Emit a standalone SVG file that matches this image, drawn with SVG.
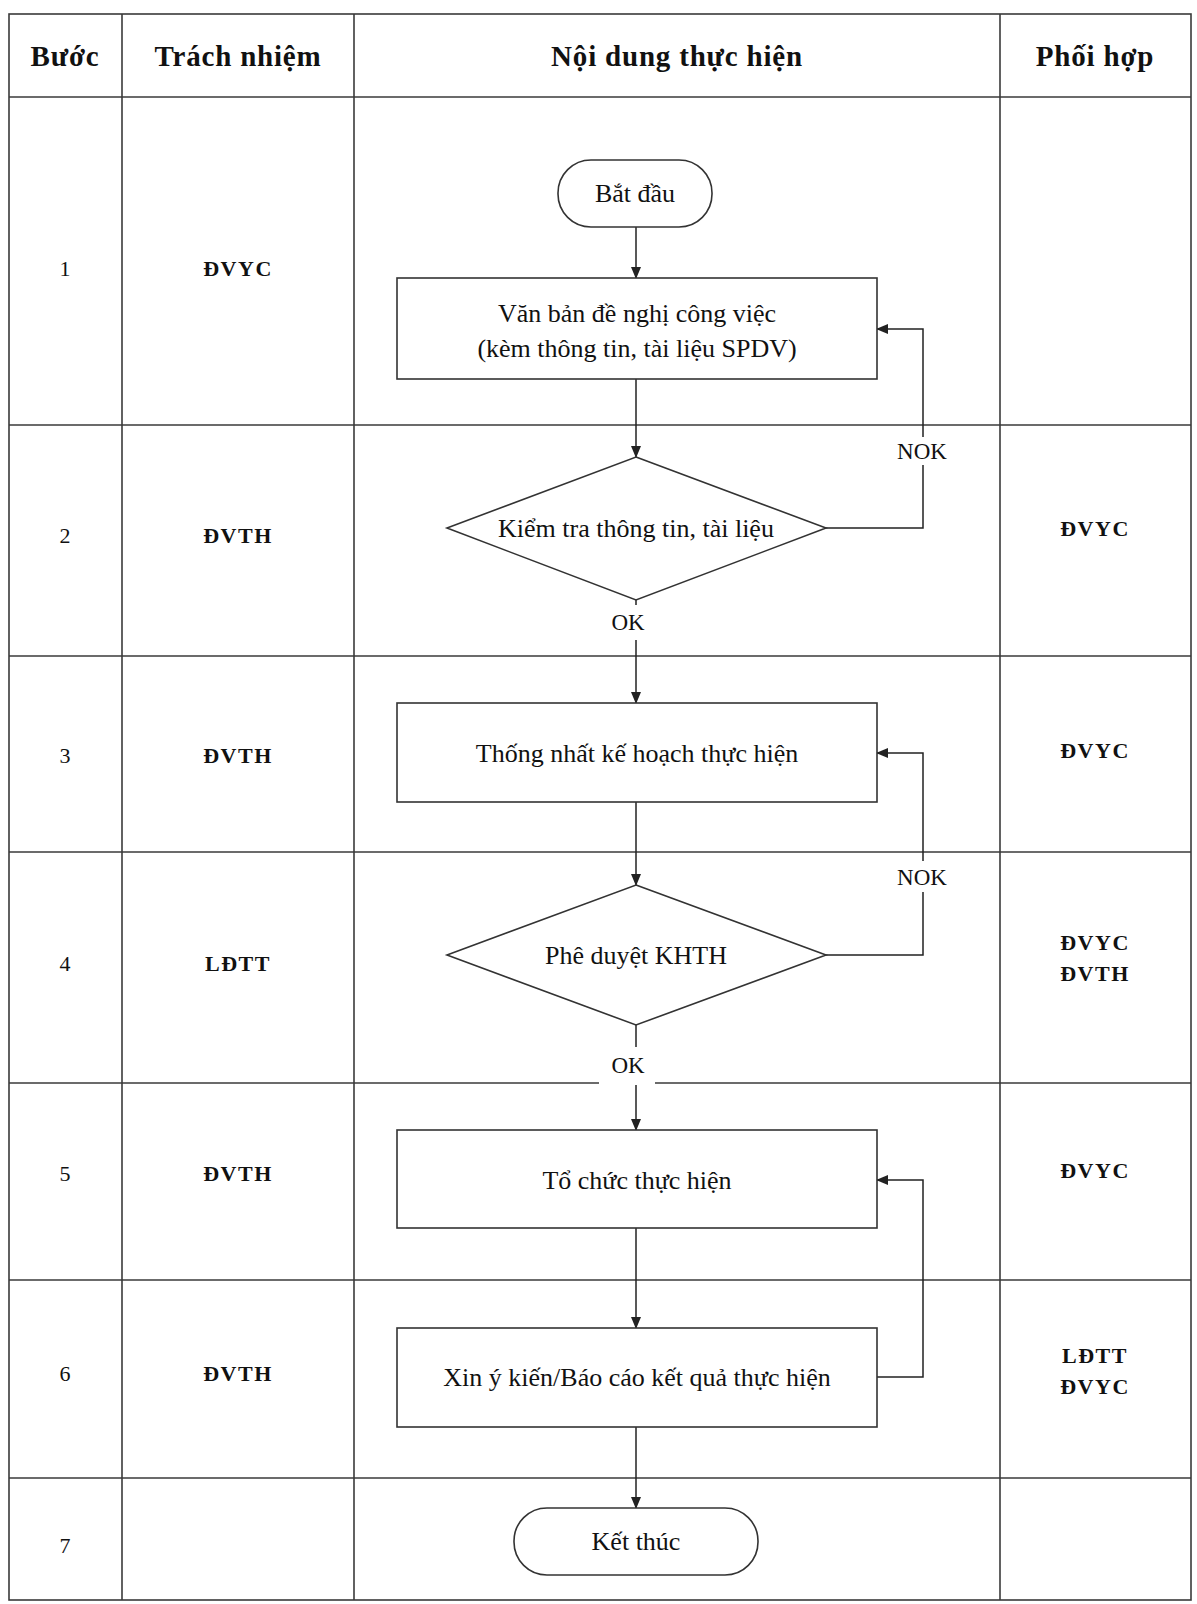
<svg xmlns="http://www.w3.org/2000/svg" width="1197" height="1604" viewBox="0 0 1197 1604">
<defs>
<marker id="ah" markerWidth="12" markerHeight="12" refX="11" refY="6" orient="auto" markerUnits="userSpaceOnUse">
<path d="M0,1 L12,6 L0,11 Z" fill="#222"/>
</marker>
<style>
.grid{stroke:#3a3a3a;stroke-width:1.6;fill:none}
.shape{fill:#fff;stroke:#333;stroke-width:1.6}
.conn{fill:none;stroke:#222;stroke-width:1.5}
.hd{font-family:"Liberation Serif","Times New Roman",serif;font-weight:bold;font-size:29px;letter-spacing:0.8px;fill:#111;text-anchor:middle}
.lb{font-family:"Liberation Serif","Times New Roman",serif;font-weight:bold;font-size:22px;letter-spacing:1.5px;fill:#111;text-anchor:middle}
.num{font-family:"Liberation Serif","Times New Roman",serif;font-size:22px;fill:#111;text-anchor:middle}
.tx{font-family:"Liberation Serif","Times New Roman",serif;font-size:26px;fill:#111;text-anchor:middle}
.sm{font-family:"Liberation Serif","Times New Roman",serif;font-size:23px;fill:#111;text-anchor:middle}
.bg{fill:#fff;stroke:none}
</style>
</defs>
<rect width="1197" height="1604" fill="#fff"/>

<g id="table">
<rect class="grid" x="9" y="14" width="1182" height="1586"/>
<line class="grid" x1="122" y1="14" x2="122" y2="1600"/>
<line class="grid" x1="354" y1="14" x2="354" y2="1600"/>
<line class="grid" x1="1000" y1="14" x2="1000" y2="1600"/>
<line class="grid" x1="9" y1="97" x2="1191" y2="97"/>
<line class="grid" x1="9" y1="425" x2="1191" y2="425"/>
<line class="grid" x1="9" y1="656" x2="1191" y2="656"/>
<line class="grid" x1="9" y1="852" x2="1191" y2="852"/>
<line class="grid" x1="9" y1="1083" x2="1191" y2="1083"/>
<line class="grid" x1="9" y1="1280" x2="1191" y2="1280"/>
<line class="grid" x1="9" y1="1478" x2="1191" y2="1478"/>
<text class="hd" x="65" y="66">Bước</text>
<text class="hd" x="238" y="66">Trách nhiệm</text>
<text class="hd" x="677" y="66">Nội dung thực hiện</text>
<text class="hd" x="1095" y="66">Phối hợp</text>
<text class="num" x="65" y="276">1</text>
<text class="lb" x="238" y="276">ĐVYC</text>
<text class="num" x="65" y="543">2</text>
<text class="lb" x="238" y="543">ĐVTH</text>
<text class="lb" x="1095" y="536">ĐVYC</text>
<text class="num" x="65" y="763">3</text>
<text class="lb" x="238" y="763">ĐVTH</text>
<text class="lb" x="1095" y="758">ĐVYC</text>
<text class="num" x="65" y="971">4</text>
<text class="lb" x="238" y="971">LĐTT</text>
<text class="lb" x="1095" y="950">ĐVYC</text>
<text class="lb" x="1095" y="981">ĐVTH</text>
<text class="num" x="65" y="1181">5</text>
<text class="lb" x="238" y="1181">ĐVTH</text>
<text class="lb" x="1095" y="1178">ĐVYC</text>
<text class="num" x="65" y="1381">6</text>
<text class="lb" x="238" y="1381">ĐVTH</text>
<text class="lb" x="1095" y="1363">LĐTT</text>
<text class="lb" x="1095" y="1394">ĐVYC</text>
<text class="num" x="65" y="1553">7</text>
</g>

<g id="label-bg">
<rect class="bg" x="896" y="437" width="54" height="28"/>
<rect class="bg" x="896" y="861" width="54" height="31"/>
<rect class="bg" x="599" y="1047" width="56" height="38"/>
</g>

<g id="connectors">
<line class="conn" x1="636" y1="227" x2="636" y2="278" marker-end="url(#ah)"/>
<line class="conn" x1="636" y1="379" x2="636" y2="457" marker-end="url(#ah)"/>
<line class="conn" x1="636" y1="600" x2="636" y2="605"/>
<line class="conn" x1="636" y1="640" x2="636" y2="703" marker-end="url(#ah)"/>
<line class="conn" x1="636" y1="802" x2="636" y2="885" marker-end="url(#ah)"/>
<line class="conn" x1="636" y1="1025" x2="636" y2="1047"/>
<line class="conn" x1="636" y1="1085" x2="636" y2="1130" marker-end="url(#ah)"/>
<line class="conn" x1="636" y1="1228" x2="636" y2="1328" marker-end="url(#ah)"/>
<line class="conn" x1="636" y1="1427" x2="636" y2="1508" marker-end="url(#ah)"/>
<polyline class="conn" points="826,528 923,528 923,465"/>
<polyline class="conn" points="923,437 923,329 877,329" marker-end="url(#ah)"/>
<polyline class="conn" points="826,955 923,955 923,892"/>
<polyline class="conn" points="923,861 923,753 877,753" marker-end="url(#ah)"/>
<polyline class="conn" points="877,1377 923,1377 923,1180 877,1180" marker-end="url(#ah)"/>
<text class="sm" x="922" y="459">NOK</text>
<text class="sm" x="922" y="885">NOK</text>
<text class="sm" x="628" y="630">OK</text>
<text class="sm" x="628" y="1073">OK</text>
</g>

<g id="start">
<rect class="shape" x="558" y="160" width="154" height="67" rx="33" ry="33"/>
<text class="tx" x="635" y="202">Bắt đầu</text>
</g>
<g id="step1">
<rect class="shape" x="397" y="278" width="480" height="101"/>
<text class="tx" x="637" y="322">Văn bản đề nghị công việc</text>
<text class="tx" x="637" y="357">(kèm thông tin, tài liệu SPDV)</text>
</g>
<g id="check">
<polygon class="shape" points="636,457 826,528 636,600 447,528"/>
<text class="tx" x="636" y="537">Kiểm tra thông tin, tài liệu</text>
</g>
<g id="plan">
<rect class="shape" x="397" y="703" width="480" height="99"/>
<text class="tx" x="637" y="762">Thống nhất kế hoạch thực hiện</text>
</g>
<g id="approve">
<polygon class="shape" points="636,885 826,955 636,1025 447,955"/>
<text class="tx" x="636" y="964">Phê duyệt KHTH</text>
</g>
<g id="execute">
<rect class="shape" x="397" y="1130" width="480" height="98"/>
<text class="tx" x="637" y="1189">Tổ chức thực hiện</text>
</g>
<g id="report">
<rect class="shape" x="397" y="1328" width="480" height="99"/>
<text class="tx" x="637" y="1386">Xin ý kiến/Báo cáo kết quả thực hiện</text>
</g>
<g id="end">
<rect class="shape" x="514" y="1508" width="244" height="67" rx="33" ry="33"/>
<text class="tx" x="636" y="1550">Kết thúc</text>
</g>
</svg>
